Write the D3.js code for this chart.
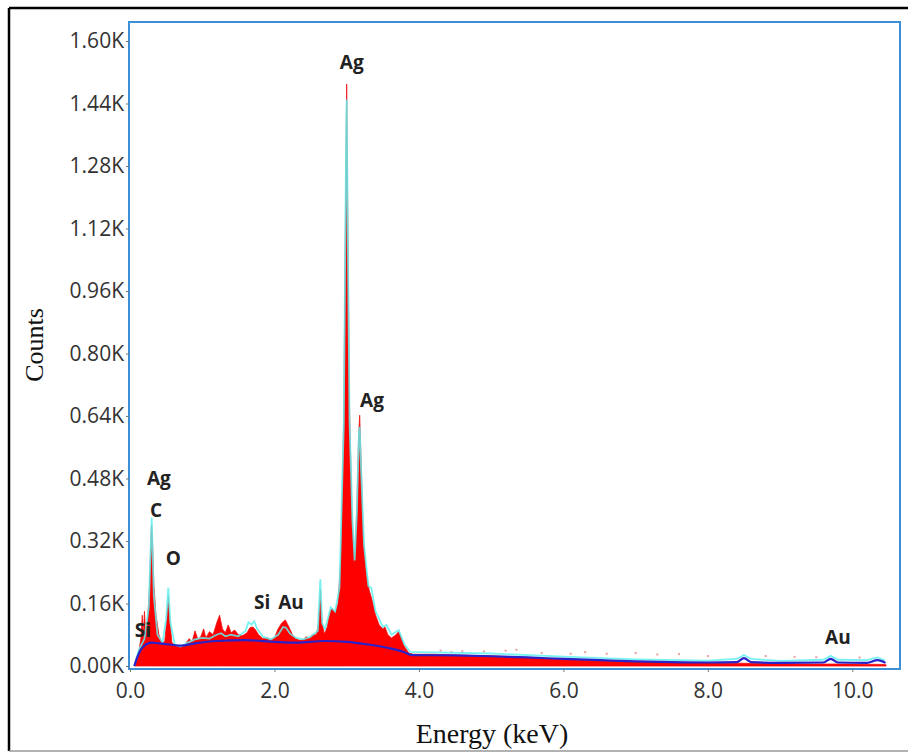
<!DOCTYPE html>
<html>
<head>
<meta charset="utf-8">
<script src="https://cdn.jsdelivr.net/npm/d3@7"></script>
<style>
  body { margin: 0; background: #fff; }
  .tick text { font-family: "Open Sans", sans-serif; fill: #333; }
  .tick line { stroke: #777; }
</style>
</head>
<body>
<div id="viz"></div>
<script>
// spectrum values (energy in keV, counts)
const spectrumEnergy = [0.06, 0.10, 0.13, 0.15, 0.17, 0.185, 0.20, 0.215, 0.24, 0.27, 0.29, 0.30, 0.31, 0.33, 0.36, 0.40, 0.44, 0.48, 0.51, 0.53, 0.55, 0.58, 0.63, 0.70, 0.76, 0.82, 0.86, 0.90, 0.94, 0.98, 1.02, 1.05, 1.10, 1.15, 1.20, 1.24, 1.28, 1.32, 1.36, 1.40, 1.45, 1.50, 1.56, 1.62, 1.66, 1.70, 1.74, 1.78, 1.84, 1.90, 1.95, 2.00, 2.05, 2.10, 2.15, 2.20, 2.25, 2.30, 2.35, 2.40, 2.44, 2.48, 2.52, 2.58, 2.61, 2.635, 2.66, 2.69, 2.73, 2.77, 2.80, 2.84, 2.88, 2.92, 2.96, 2.985, 3.00, 3.015, 3.04, 3.075, 3.11, 3.14, 3.165, 3.18, 3.20, 3.23, 3.27, 3.31, 3.35, 3.40, 3.45, 3.50, 3.53, 3.57, 3.62, 3.67, 3.72, 3.76, 3.80, 3.86, 3.92, 4.2, 4.5, 5.0, 5.5, 6.0, 6.5, 7.0, 7.5, 8.0, 8.5, 9.0, 9.5, 10.0, 10.46, 10.47];
const spectrumCounts = [0, 25, 45, 70, 130, 75, 140, 90, 110, 200, 330, 360, 330, 210, 130, 80, 60, 62, 120, 178, 120, 60, 52, 48, 55, 70, 62, 90, 68, 75, 95, 72, 88, 80, 110, 130, 95, 85, 105, 85, 92, 80, 78, 85, 98, 100, 92, 80, 70, 72, 68, 72, 95, 110, 118, 100, 80, 70, 66, 68, 75, 70, 80, 80, 110, 195, 110, 82, 100, 140, 148, 135, 160, 280, 650, 1200, 1490, 1150, 650, 380, 265, 400, 590, 642, 520, 330, 240, 195, 170, 130, 105, 95, 100, 80, 72, 78, 88, 70, 50, 33, 30, 30, 28, 26, 22, 18, 15, 12, 10, 8, 7, 6, 5, 5, 4, 0];

// fitted (cyan) line
const fitEnergy = [0.06, 0.12, 0.20, 0.26, 0.30, 0.33, 0.38, 0.45, 0.50, 0.53, 0.56, 0.62, 0.70, 0.80, 0.90, 1.00, 1.10, 1.20, 1.26, 1.32, 1.40, 1.50, 1.60, 1.64, 1.68, 1.72, 1.76, 1.84, 1.95, 2.05, 2.12, 2.16, 2.22, 2.30, 2.40, 2.50, 2.60, 2.635, 2.66, 2.70, 2.78, 2.84, 2.90, 2.96, 2.99, 3.00, 3.015, 3.04, 3.08, 3.11, 3.14, 3.17, 3.18, 3.20, 3.24, 3.30, 3.34, 3.40, 3.50, 3.55, 3.62, 3.72, 3.80, 3.88, 4.2, 5.0, 6.0, 7.0, 8.0, 8.4, 8.5, 8.6, 9.0, 9.6, 9.7, 9.8, 10.2, 10.35, 10.45];
const fitCounts = [0, 40, 70, 150, 380, 180, 80, 60, 120, 200, 110, 55, 50, 60, 68, 72, 70, 80, 84, 76, 80, 76, 90, 112, 106, 114, 95, 75, 68, 80, 100, 98, 82, 72, 68, 75, 90, 222, 110, 95, 150, 140, 200, 620, 1300, 1450, 1100, 620, 370, 270, 390, 600, 612, 500, 310, 205, 200, 140, 100, 105, 80, 92, 55, 36, 35, 32, 24, 17, 14, 18, 28, 18, 13, 16, 26, 16, 15, 22, 14];

// background (blue) line
const bgEnergy = [0.06, 0.10, 0.15, 0.22, 0.30, 0.40, 0.55, 0.70, 0.90, 1.20, 1.60, 2.00, 2.30, 2.70, 3.00, 3.30, 3.60, 3.80, 3.90, 4.5, 5.0, 5.5, 6.0, 6.5, 7.0, 7.5, 8.0, 8.4, 8.5, 8.6, 9.0, 9.6, 9.7, 9.8, 10.2, 10.35, 10.46];
const bgCounts = [0, 22, 42, 55, 60, 58, 55, 52, 58, 64, 66, 62, 60, 64, 62, 55, 45, 35, 28, 27, 25, 22, 18, 15, 12, 10, 9, 10, 20, 10, 8, 9, 18, 9, 8, 15, 8];

// scattered red counts above the tail
const noiseEnergy = [4.3, 4.45, 4.6, 4.9, 5.2, 5.35, 5.7, 6.1, 6.3, 6.6, 7.0, 7.3, 7.6, 8.0, 8.8, 9.2, 9.5, 10.1];
const noiseCounts = [42, 38, 40, 40, 42, 44, 36, 34, 38, 34, 36, 32, 33, 28, 28, 26, 25, 24];

// element labels
const labelText = ["Ag", "Ag", "Ag", "C", "O", "Si", "Si", "Au", "Au"];
const labelEnergy = [3.07, 3.35, 0.40, 0.36, 0.60, 0.18, 1.83, 2.23, 9.80];
const labelCounts = [1546, 681, 481, 400, 276, 92, 164, 164, 74];

const xTickValues = [0, 2, 4, 6, 8, 10];
const yTickValues = [0, 160, 320, 480, 640, 800, 960, 1120, 1280, 1440, 1600];

const W = 908, H = 756;
const PLOT = {left: 129, top: 22, right: 900, bottom: 669};

const svg = d3.select("#viz").append("svg")
    .attr("width", W)
    .attr("height", H);

// outer frame
svg.append("line").attr("x1", 9).attr("y1", 8).attr("x2", W).attr("y2", 8)
    .attr("stroke", "#000").attr("stroke-width", 2.5);
svg.append("line").attr("x1", 9).attr("y1", 8).attr("x2", 9).attr("y2", 751)
    .attr("stroke", "#000").attr("stroke-width", 2.5);
svg.append("line").attr("x1", 9).attr("y1", 751).attr("x2", W).attr("y2", 751)
    .attr("stroke", "#999").attr("stroke-width", 1.5);

const X_SCALE = d3.scaleLinear().domain([0, 10.66]).range([130, 900]);
const Y_SCALE = d3.scaleLinear().domain([0, 1600]).range([666, 41]);

const spectrum = spectrumEnergy.map((e, i) => ({e: e, c: spectrumCounts[i]}));
const fit = fitEnergy.map((e, i) => ({e: e, c: fitCounts[i]}));
const bg = bgEnergy.map((e, i) => ({e: e, c: bgCounts[i]}));

// red spectrum
svg.append("path")
    .datum(spectrum)
    .attr("d", d3.area().x(d => X_SCALE(d.e)).y0(Y_SCALE(0)).y1(d => Y_SCALE(d.c)))
    .attr("fill", "#ff0000")
    .attr("stroke", "#f01010")
    .attr("stroke-width", 0.8);

svg.selectAll(".noise")
    .data(noiseEnergy)
    .enter()
    .append("rect")
      .attr("class", "noise")
      .attr("x", d => X_SCALE(d) - 1)
      .attr("y", (d, i) => Y_SCALE(noiseCounts[i]))
      .attr("width", 2)
      .attr("height", 2)
      .attr("fill", "#e05050")
      .attr("opacity", 0.55);

// cyan fit
svg.append("path")
    .datum(fit)
    .attr("d", d3.line().x(d => X_SCALE(d.e)).y(d => Y_SCALE(d.c)))
    .attr("fill", "none")
    .attr("stroke", "#5ff0ee")
    .attr("stroke-width", 1.8)
    .attr("opacity", 0.85);

// blue background
svg.append("path")
    .datum(bg)
    .attr("d", d3.line().curve(d3.curveMonotoneX).x(d => X_SCALE(d.e)).y(d => Y_SCALE(d.c)))
    .attr("fill", "none")
    .attr("stroke", "#2a22c8")
    .attr("stroke-width", 2.2);

// plot frame
svg.append("rect")
    .attr("x", PLOT.left).attr("y", PLOT.top)
    .attr("width", PLOT.right - PLOT.left).attr("height", PLOT.bottom - PLOT.top)
    .attr("fill", "none")
    .attr("stroke", "#3d8fd6")
    .attr("stroke-width", 2);

// axes
const yAxis = svg.append("g")
    .attr("transform", "translate(" + PLOT.left + ",0)")
    .call(d3.axisLeft(Y_SCALE).tickValues(yTickValues).tickSize(3).tickPadding(2)
        .tickFormat(d => (d / 1000).toFixed(2) + "K"));
yAxis.select(".domain").remove();
yAxis.selectAll("text").attr("font-size", 21);

const xAxis = svg.append("g")
    .attr("transform", "translate(0," + PLOT.bottom + ")")
    .call(d3.axisBottom(X_SCALE).tickValues(xTickValues).tickSize(3).tickPadding(11)
        .tickFormat(d => d.toFixed(1)));
xAxis.select(".domain").remove();
xAxis.selectAll("text").attr("font-size", 21);

// element labels
svg.selectAll(".peak")
    .data(labelText)
    .enter()
    .append("text")
      .attr("class", "peak")
      .attr("x", (d, i) => X_SCALE(labelEnergy[i]))
      .attr("y", (d, i) => Y_SCALE(labelCounts[i]))
      .attr("text-anchor", "middle")
      .attr("dominant-baseline", "central")
      .attr("font-family", "'Open Sans', sans-serif")
      .attr("font-weight", "bold")
      .attr("font-size", 19)
      .attr("fill", "#222")
      .text(d => d);

// axis titles
svg.append("text")
    .attr("transform", "translate(43,345) rotate(-90)")
    .attr("text-anchor", "middle")
    .attr("font-family", "'Liberation Serif', serif")
    .attr("font-size", 26)
    .attr("fill", "#111")
    .text("Counts");

svg.append("text")
    .attr("x", 492)
    .attr("y", 743)
    .attr("text-anchor", "middle")
    .attr("font-family", "'Liberation Serif', serif")
    .attr("font-size", 28)
    .attr("fill", "#111")
    .text("Energy (keV)");
</script>
</body>
</html>
